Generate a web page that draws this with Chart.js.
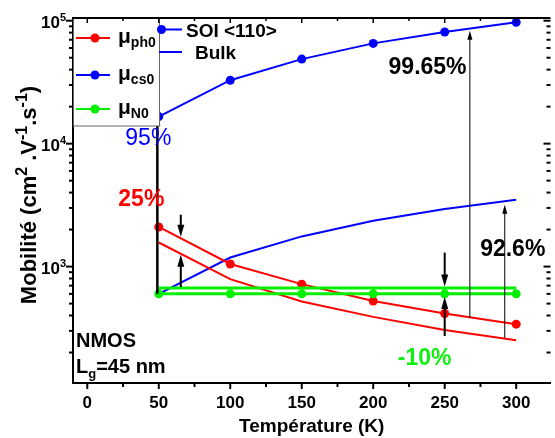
<!DOCTYPE html>
<html lang="fr">
<head>
<meta charset="utf-8" />
<title>Mobilité vs Température</title>
<script src="https://cdn.jsdelivr.net/npm/chart.js@4.4.1/dist/chart.umd.min.js"></script>
<style>
  html, body { margin: 0; padding: 0; background: #fff; }
  #wrap { width: 555px; height: 438px; }
</style>
</head>
<body>
<div id="wrap"><canvas id="chart" width="555" height="438"></canvas></div>
<script>
// values
var temps   = [50, 100, 150, 200, 250, 300];
var phSOI   = [2100, 1050, 720, 525, 415, 340];
var phBulk  = [1570, 790, 520, 390, 305, 252];
var csSOI   = [16600, 32800, 48700, 65400, 80900, 97000];
var csBulk  = [600, 1185, 1760, 2360, 2940, 3500];
var n0SOI   = [600, 600, 600, 600, 600, 600];
var n0Bulk  = [670, 670, 670, 670, 670, 670];
var xTickValues = [0, 25, 50, 75, 100, 125, 150, 175, 200, 225, 250, 275, 300];
var yLabelExp = [3, 4, 5];

// arrows: [T, from, to, kind]
var arrows = [
  [49, 600, 16600, 'axis'],
  [65.4, 2640, 1750, 'bold'],
  [65.4, 682, 1250, 'bold'],
  [250, 1300, 690, 'bold'],
  [250, 272, 565, 'bold'],
  [267.6, 381, 82800, 'thin'],
  [292, 263, 3190, 'thin']
];
// text notes: [text, T, value, colour, weight]
var notes = [
  ['95%', 42.7, 10900, '#0000ff', 'normal'],
  ['25%', 37.8, 3475, '#ff0000', 'bold'],
  ['99.65%', 238, 41200, '#000000', 'bold'],
  ['92.6%', 297.6, 1362, '#000000', 'bold'],
  ['-10%', 236, 177, '#11ee11', 'bold']
];

var FONT = '"Liberation Sans", Arial, Helvetica, sans-serif';
var RED = '#ff0000', BLUE = '#0000ff', GREEN = '#00f000';

function partsWidth(c, parts, weight) {
  var w = 0;
  parts.forEach(function (p) {
    c.font = weight + ' ' + p[1] + 'px ' + FONT;
    w += c.measureText(p[0]).width;
  });
  return w;
}
// parts: [text, size, dy]
function drawParts(c, parts, x, y, align, weight) {
  weight = weight || 'bold';
  var w = partsWidth(c, parts, weight);
  var cx = align === 'center' ? x - w / 2 : (align === 'right' ? x - w : x);
  c.textAlign = 'left';
  c.textBaseline = 'alphabetic';
  parts.forEach(function (p) {
    c.font = weight + ' ' + p[1] + 'px ' + FONT;
    c.fillText(p[0], cx, y + (p[2] || 0));
    cx += c.measureText(p[0]).width;
  });
}

function arrow(c, x, y1, y2, kind) {
  var lw = 2, hw = 7, hl = 12;
  if (kind === 'thin') { lw = 1; hw = 5; hl = 9; }
  if (kind === 'axis') { lw = 2.5; hw = 6; hl = 9; }
  var dir = y2 < y1 ? -1 : 1;
  c.strokeStyle = '#000';
  c.fillStyle = '#000';
  c.lineWidth = lw;
  c.beginPath();
  c.moveTo(x, y1);
  c.lineTo(x, y2 - dir * hl * 0.8);
  c.stroke();
  c.beginPath();
  c.moveTo(x, y2);
  c.lineTo(x - hw / 2, y2 - dir * hl);
  c.lineTo(x + hw / 2, y2 - dir * hl);
  c.closePath();
  c.fill();
}

function isNice(v) {
  var p = Math.pow(10, Math.floor(Math.log10(v) + 1e-9));
  var s = v / p;
  return Math.abs(s - Math.round(s)) < 1e-6;
}

var decor = {
  id: 'decor',
  afterDatasetsDraw: function (chart) {
    var c = chart.ctx, xs = chart.scales.x, ys = chart.scales.y, a = chart.chartArea;
    c.save();
    arrows.forEach(function (r) {
      arrow(c, xs.getPixelForValue(r[0]), ys.getPixelForValue(r[1]), ys.getPixelForValue(r[2]), r[3]);
    });
    notes.forEach(function (n) {
      c.fillStyle = n[3];
      c.font = n[4] + ' 23px ' + FONT;
      c.textAlign = 'center';
      c.textBaseline = 'middle';
      c.fillText(n[0], xs.getPixelForValue(n[1]), ys.getPixelForValue(n[2]));
    });
    // NMOS / Lg
    c.fillStyle = '#000';
    drawParts(c, [['NMOS', 20]], a.left + 3, 347, 'left');
    drawParts(c, [['L', 20], ['g', 13, 5], ['=45 nm', 20]], a.left + 3, 373, 'left');

    // legend box
    var bx = a.left, by = a.top, bw = 86, bh = 108;
    c.fillStyle = '#fff';
    c.fillRect(bx, by, bw, bh);
    c.strokeStyle = '#666';
    c.lineWidth = 1;
    c.strokeRect(bx + 0.5, by, bw, bh);
    var rows = [[RED, 'ph0', 20], [BLUE, 'cs0', 57], [GREEN, 'N0', 91]];
    rows.forEach(function (r) {
      var yy = by + r[2];
      c.strokeStyle = r[0];
      c.lineWidth = 2;
      c.beginPath(); c.moveTo(bx + 3, yy); c.lineTo(bx + 37, yy); c.stroke();
      c.fillStyle = r[0];
      c.beginPath(); c.arc(bx + 22, yy, 4.5, 0, Math.PI * 2); c.fill();
      c.fillStyle = '#000';
      drawParts(c, [['\u03bc', 21], [r[1], 14, 4]], bx + 45, yy + 5, 'left');
    });
    // style legend
    var lx = bx + bw;
    c.strokeStyle = BLUE; c.fillStyle = BLUE; c.lineWidth = 2;
    c.beginPath(); c.moveTo(lx, by + 11.5); c.lineTo(lx + 23, by + 11.5); c.stroke();
    c.beginPath(); c.arc(lx + 2.5, by + 11.5, 4.5, 0, Math.PI * 2); c.fill();
    c.beginPath(); c.moveTo(lx, by + 34); c.lineTo(lx + 23, by + 34); c.stroke();
    c.fillStyle = '#000';
    drawParts(c, [['SOI <110>', 19]], lx + 27, by + 18.5, 'left');
    drawParts(c, [['Bulk', 19]], lx + 36, by + 41, 'left');
    c.restore();
  },
  afterDraw: function (chart) {
    var c = chart.ctx, xs = chart.scales.x, ys = chart.scales.y, a = chart.chartArea;
    c.save();
    c.strokeStyle = '#000';
    // frame top
    c.lineWidth = 2;
    c.beginPath(); c.moveTo(a.left - 1, a.top); c.lineTo(a.right, a.top); c.stroke();
    // x ticks
    xs.ticks.forEach(function (t) {
      var px = xs.getPixelForValue(t.value), major = t.value % 50 === 0;
      c.lineWidth = 2;
      c.beginPath(); c.moveTo(px, a.bottom); c.lineTo(px, a.bottom + (major ? 6 : 4)); c.stroke();
      c.lineWidth = 1.5;
      c.beginPath(); c.moveTo(px, a.top); c.lineTo(px, a.top + (major ? 5 : 3)); c.stroke();
    });
    // y ticks
    ys.ticks.forEach(function (t) {
      var py = ys.getPixelForValue(t.value);
      var major = Math.abs(Math.log10(t.value) - Math.round(Math.log10(t.value))) < 1e-9;
      c.lineWidth = 2;
      c.beginPath(); c.moveTo(a.left, py); c.lineTo(a.left - (major ? 7 : 4), py); c.stroke();
      c.beginPath(); c.moveTo(a.right, py); c.lineTo(a.right - (major ? 7 : 4), py); c.stroke();
    });
    // y labels 10^n
    c.fillStyle = '#000';
    yLabelExp.forEach(function (e) {
      var py = ys.getPixelForValue(Math.pow(10, e));
      drawParts(c, [['10', 17], [String(e), 11, -7]], a.left - 7, py + 7.6, 'right');
    });
    // y title
    c.translate(36, 195);
    c.rotate(-Math.PI / 2);
    drawParts(c, [['Mobilit\u00e9 (cm', 22], ['2', 16, -9], [' .V', 22], ['-1', 16, -9], ['.s', 22], ['-1', 16, -9], [')', 22]], 0, 0, 'center');
    c.restore();
  }
};

function ds(label, data, color, width, radius) {
  return {
    label: label,
    data: temps.map(function (t, i) { return {x: t, y: data[i]}; }),
    borderColor: color,
    backgroundColor: color,
    borderWidth: width,
    pointRadius: radius,
    pointBorderWidth: 0,
    pointBackgroundColor: color,
    tension: 0,
    clip: false
  };
}

new Chart(document.getElementById('chart'), {
  type: 'line',
  data: {
    datasets: [
      ds('\u03bcN0 SOI', n0SOI, GREEN, 3, 4.5),
      ds('\u03bcN0 Bulk', n0Bulk, GREEN, 3, 0),
      ds('\u03bcph0 SOI', phSOI, RED, 2, 4.5),
      ds('\u03bcph0 Bulk', phBulk, RED, 2, 0),
      ds('\u03bccs0 SOI', csSOI, BLUE, 2, 4.5),
      ds('\u03bccs0 Bulk', csBulk, BLUE, 2, 0)
    ]
  },
  options: {
    responsive: false,
    animation: false,
    events: [],
    layout: { padding: { top: 18, right: 0, bottom: 0, left: 0 } },
    plugins: { legend: { display: false }, tooltip: { enabled: false } },
    scales: {
      x: {
        type: 'linear',
        min: -10,
        max: 324,
        afterBuildTicks: function (s) {
          s.ticks = xTickValues.map(function (v) { return {value: v}; });
        },
        afterFit: function (s) { s.height = 55; },
        grid: { display: false, drawTicks: false },
        border: { display: true, color: '#000', width: 2 },
        ticks: {
          autoSkip: false,
          maxRotation: 0,
          padding: 10,
          color: '#000',
          font: { family: FONT, size: 17, weight: 'bold' },
          callback: function (v) { return v % 50 === 0 ? String(v) : ''; }
        },
        title: {
          display: true,
          text: 'Temp\u00e9rature (K)',
          color: '#000',
          padding: { top: 0, bottom: 0 },
          font: { family: FONT, size: 19, weight: 'bold' }
        }
      },
      y: {
        type: 'logarithmic',
        min: 113,
        max: 105200,
        afterBuildTicks: function (s) {
          s.ticks = s.ticks.filter(function (t) { return isNice(t.value); });
        },
        afterFit: function (s) { s.width = 73; },
        grid: { display: false, drawTicks: false },
        border: { display: true, color: '#000', width: 2 },
        ticks: { display: false }
      }
    }
  },
  plugins: [decor]
});
</script>
</body>
</html>
